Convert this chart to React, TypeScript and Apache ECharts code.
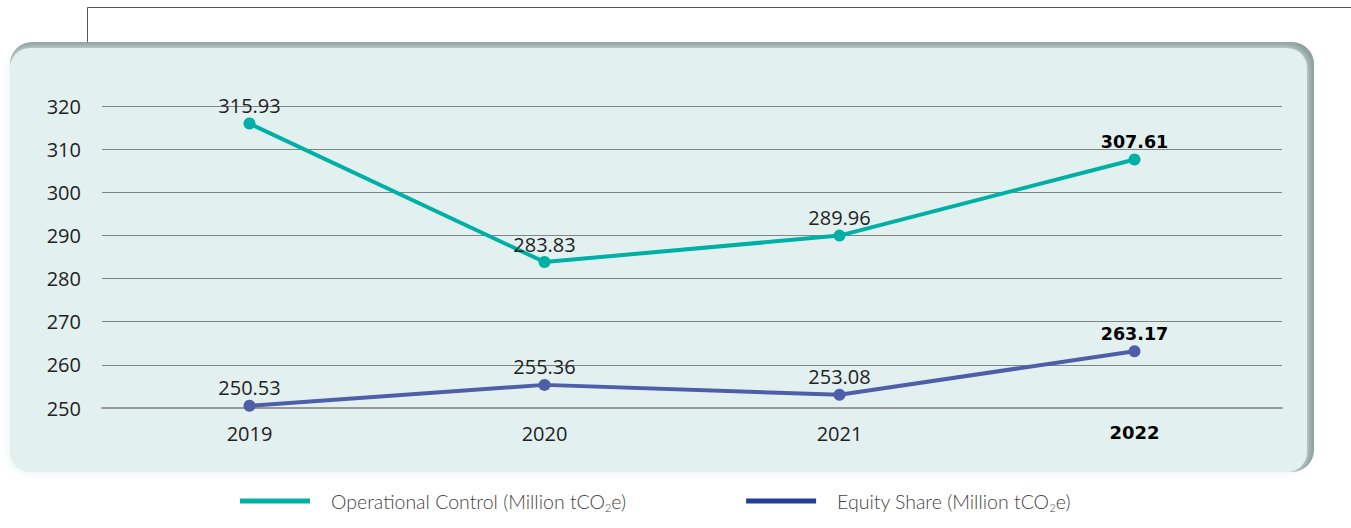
import React, { useEffect, useRef } from "react";
import * as echarts from "echarts";

const years = ["2019", "2020", "2021", "2022"];
const operational = [315.93, 283.83, 289.96, 307.61];
const equity = [250.53, 255.36, 253.08, 263.17];
const yTicks = { min: 250, max: 320, interval: 10 };
const seriesNames = ["Operational Control (Million tCO2e)", "Equity Share (Million tCO2e)"];

const TEAL = "#00b0a5";
const LINE_BLUE = "#4f5ea9";
const LEGEND_BLUE = "#233f99";
const FONT = "Open Sans";
const LEGEND_FONT = "Lato";
const BOLD_FONT = "DejaVu Sans";

export default function App() {
  const ref = useRef<HTMLDivElement>(null);
  useEffect(() => {
    if (!ref.current) return;
    const chart = echarts.init(ref.current, undefined, { renderer: "svg" });
    const last = years.length - 1;
    const mkData = (vals: number[]) =>
      vals.map((v, i) =>
        i === last
          ? {
              value: v,
              label: { fontFamily: BOLD_FONT, fontWeight: "bold", color: "#000", fontSize: 17.5 },
            }
          : v
      );
    const labelCfg = {
      show: true,
      position: "top",
      distance: 2,
      fontFamily: FONT,
      fontSize: 20,
      color: "#222",
      formatter: (p: any) => Number(p.value).toFixed(2),
    };
    chart.setOption({
      animation: false,
      graphic: [
        {
          type: "line",
          shape: { x1: 87.5, y1: 7.5, x2: 1351, y2: 7.5 },
          style: { stroke: "#555", lineWidth: 1 },
          z: 0,
        },
        {
          type: "line",
          shape: { x1: 87.5, y1: 7.5, x2: 87.5, y2: 45 },
          style: { stroke: "#555", lineWidth: 1 },
          z: 0,
        },
        {
          type: "rect",
          shape: { x: 10, y: 42, width: 1304, height: 430, r: 22 },
          style: { fill: "#8d9d9c" },
          z: 0,
        },
        {
          type: "rect",
          shape: { x: 10, y: 48, width: 1297, height: 424, r: 20 },
          style: { fill: "#e2f1f0", shadowBlur: 8, shadowColor: "#e2f1f0" },
          z: 0,
        },
      ],
      grid: { left: 102, right: 69, top: 106, bottom: 120, containLabel: false },
      legend: {
        left: 240,
        top: 491,
        padding: 0,
        itemWidth: 70,
        itemHeight: 5,
        itemGap: 120,
        icon: "rect",
        data: [
          { name: seriesNames[0], itemStyle: { color: TEAL } },
          { name: seriesNames[1], itemStyle: { color: LEGEND_BLUE } },
        ],
        formatter: (name: string) => "{m|" + name.replace("CO2e)", "CO}{s|2}{m|e)}"),
        textStyle: {
          padding: [0, 0, 0, 16],
          rich: {
            m: { fontFamily: LEGEND_FONT, fontSize: 19.5, color: "#444", fontWeight: 300, lineHeight: 24 },
            s: {
              fontFamily: LEGEND_FONT,
              fontSize: 11,
              color: "#444",
              fontWeight: 300,
              lineHeight: 8,
              verticalAlign: "bottom",
            },
          },
        },
      },
      xAxis: {
        type: "category",
        data: years,
        axisTick: { show: false },
        axisLine: { show: true, lineStyle: { color: "#999", width: 2 } },
        axisLabel: {
          margin: 15,
          formatter: (v: string, i: number) => (i === last ? "{b|" + v + "}" : "{n|" + v + "}"),
          rich: {
            n: { fontFamily: FONT, fontSize: 20, color: "#222" },
            b: { fontFamily: BOLD_FONT, fontSize: 18, fontWeight: "bold", color: "#000" },
          },
        },
      },
      yAxis: {
        type: "value",
        min: yTicks.min,
        max: yTicks.max,
        interval: yTicks.interval,
        axisLine: { show: false },
        axisTick: { show: false },
        axisLabel: { margin: 21, fontFamily: FONT, fontSize: 20, color: "#222" },
        splitLine: { lineStyle: { color: "#7d8585", width: 1 } },
      },
      series: [
        {
          name: seriesNames[0],
          type: "line",
          data: mkData(operational),
          lineStyle: { color: TEAL, width: 4 },
          itemStyle: { color: TEAL },
          symbol: "circle",
          symbolSize: 12,
          label: labelCfg,
        },
        {
          name: seriesNames[1],
          type: "line",
          data: mkData(equity),
          lineStyle: { color: LINE_BLUE, width: 4 },
          itemStyle: { color: LINE_BLUE },
          symbol: "circle",
          symbolSize: 12,
          label: labelCfg,
        },
      ],
    });
    return () => chart.dispose();
  }, []);
  return (
    <div
      ref={ref}
      style={{ position: "fixed", left: 0, top: 0, width: 1351, height: 528, background: "#fff" }}
    />
  );
}
